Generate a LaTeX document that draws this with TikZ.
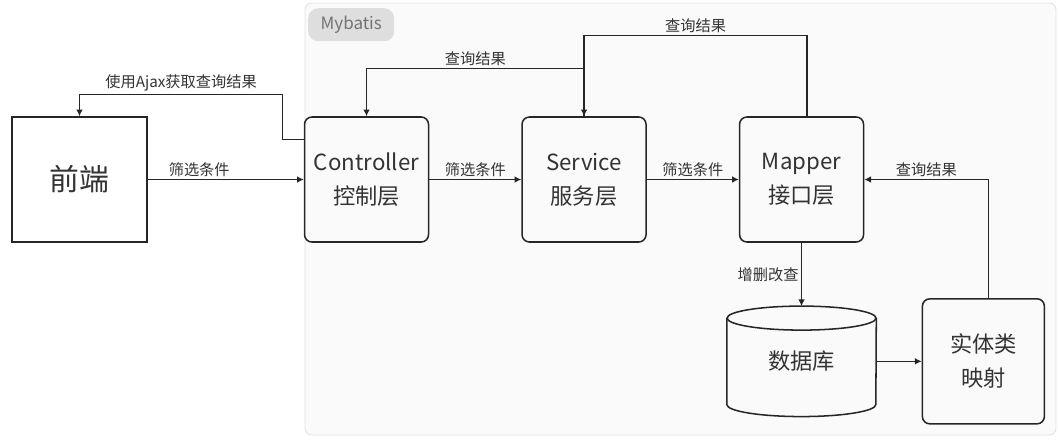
\documentclass[tikz,border=0pt]{standalone}
\usepackage{fontspec}
\setmainfont{Noto Sans CJK SC}
\usepackage{xcolor}
\usepackage{tikz}
\usetikzlibrary{positioning,backgrounds,arrows.meta}

\definecolor{ink}{HTML}{333333}
\definecolor{frameline}{HTML}{E2E2E2}
\definecolor{framefill}{HTML}{FAFAFA}
\definecolor{tagfill}{HTML}{DEDEDE}
\definecolor{tagtext}{HTML}{737373}

\begin{document}
\begin{tikzpicture}[
  font=\fontsize{13}{16}\selectfont,
  box/.style={draw=black!85,line width=1.3pt,align=center,text=ink,inner sep=2pt},
  front/.style={box,minimum width=4.05cm,minimum height=3.75cm,font=\fontsize{25.5}{30}\selectfont},
  layer/.style={box,rounded corners=0.22cm,minimum width=3.72cm,minimum height=3.75cm,font=\fontsize{19}{29}\selectfont},
  db/.style={align=center,text=ink,minimum width=4.47cm,minimum height=3.3cm,inner sep=0pt,font=\fontsize{19}{29}\selectfont},
  lbl/.style={text=ink,inner sep=2pt},
  arr/.style={-{Latex[length=2mm,width=2mm]},line width=1.1pt,black!85},
]
\useasboundingbox (0,0) rectangle (31.74,-13.41);
\node[front] (front) at (2.385,-5.385) {前端};
\node[layer, right=4.68cm of front] (ctrl) {Controller\\控制层};
\node[layer, right=2.76cm of ctrl] (svc) {Service\\服务层};
\node[layer, right=2.76cm of svc] (mapper) {Mapper\\接口层};
\node[db, below=1.9cm of mapper] (db) {数据库};
\node[layer, minimum width=3.66cm, right=1.36cm of db] (entity) {实体类\\映射};
\node[anchor=north west,fill=tagfill,rounded corners=0.3cm,minimum width=2.58cm,minimum height=0.99cm,
      text=tagtext,font=\fontsize{14.5}{16}\selectfont] (tag) at (9.24,-0.24) {Mybatis};
% database cylinder
\draw[black!85,line width=1.3pt] ([yshift=-0.36cm]db.north) ellipse (2.235cm and 0.36cm);
\draw[black!85,line width=1.3pt] ([yshift=-0.36cm]db.north west) -- ([yshift=0.36cm]db.south west)
  arc (180:360:2.235cm and 0.36cm) -- ([yshift=-0.36cm]db.north east);
% request path
\draw[arr] (front.east) -- node[lbl,above,pos=0.33] {筛选条件} (ctrl.west);
\draw[arr] (ctrl) -- node[lbl,above] {筛选条件} (svc);
\draw[arr] (svc) -- node[lbl,above] {筛选条件} (mapper);
\draw[arr] (mapper.south) -- node[lbl,left] {增删改查} (db.north);
\draw[arr] (db.east) -- (db.east -| entity.west);
% result path
\draw[arr] ([xshift=0.15cm]entity.north) |- node[lbl,above,pos=0.75] {查询结果} (mapper.east);
\draw[arr] ([xshift=0.165cm]mapper.north) -- ++(0,2.43) -| node[lbl,above,pos=0.25] {查询结果} (svc.north);
\draw[arr] (svc.north) -- ++(0,1.44) -| node[lbl,above,pos=0.25] {查询结果} (ctrl.north);
\draw[arr] ([yshift=1.2cm]ctrl.west) -| ++(-0.63,1.35) -| node[lbl,above,pos=0.25] {使用Ajax获取查询结果} (front.north);
\begin{scope}[on background layer]
\draw[frameline,fill=framefill,line width=0.8pt,rounded corners=0.2cm] (9.15,-0.09) rectangle (31.68,-13.05);
\end{scope}
\end{tikzpicture}
\end{document}
